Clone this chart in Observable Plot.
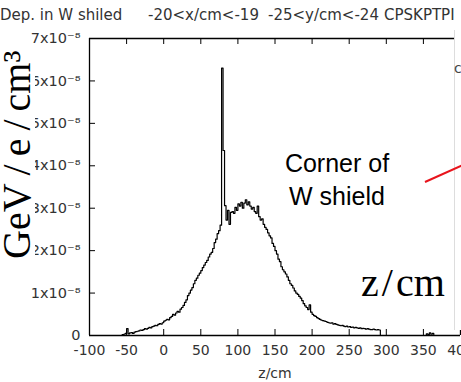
<!DOCTYPE html>
<html><head><meta charset="utf-8">
<script src="https://cdn.jsdelivr.net/npm/d3@7"></script>
<script src="https://cdn.jsdelivr.net/npm/@observablehq/plot@0.6"></script>
<style>
html,body{margin:0;padding:0;background:#fff;}
#chart{width:461px;height:382px;overflow:hidden;position:relative;}
</style></head><body><div id="chart"></div>
<script>
// ---- data ----
const titleParts = ["Dep. in W shiled", "-20<x/cm<-19", "-25<y/cm<-24", "CPSKPTPI"];
const xTicks = [-100, -50, 0, 50, 100, 150, 200, 250, 300, 350, 400];
const yTicks = [0, 1e-8, 2e-8, 3e-8, 4e-8, 5e-8, 6e-8, 7e-8];
const yTickLabels = ["0", "1x10⁻⁸", "2x10⁻⁸", "3x10⁻⁸", "4x10⁻⁸", "5x10⁻⁸", "6x10⁻⁸", "7x10⁻⁸"];
const xLabel = "z/cm";
const yOverlay = ["GeV", "/", "e", "/", "cm³"];
const zOverlay = ["z", "/", "cm"];
const note = ["Corner of", "W shield"];
const binStart = -56;   // cm
const binWidth = 2;     // cm
const depScale = 1e-8;  // GeV/e/cm^3
const dep = [
  0.02, 0.03, 0.05, 0.16, 0.04, 0.06, 0.07, 0.05, 0.08, 0.09,
  0.10, 0.11, 0.13, 0.12, 0.14, 0.16, 0.15, 0.17, 0.19, 0.18,
  0.21, 0.22, 0.24, 0.23, 0.26, 0.28, 0.27, 0.30, 0.34, 0.36,
  0.38, 0.37, 0.42, 0.45, 0.50, 0.48, 0.53, 0.57, 0.55, 0.62,
  0.66, 0.71, 0.78, 0.84, 0.94, 1.00, 1.07, 1.13, 1.22, 1.30,
  1.35, 1.42, 1.47, 1.53, 1.60, 1.66, 1.72, 1.77, 1.85, 1.92,
  1.96, 2.05, 2.19, 2.27, 2.40, 2.47, 2.60, 6.30, 4.36, 3.06,
  2.72, 2.95, 2.62, 2.90, 2.92, 2.88, 3.02, 2.95, 3.10, 3.05,
  3.14, 3.00, 3.12, 3.20, 3.08, 3.15, 3.05, 2.98, 3.02, 2.92,
  2.88, 3.05, 2.80, 2.72, 2.75, 2.62, 2.55, 2.50, 2.42, 2.35,
  2.30, 2.17, 2.10, 2.00, 1.92, 1.80, 1.74, 1.62, 1.55, 1.50,
  1.45, 1.38, 1.30, 1.22, 1.18, 1.12, 1.05, 1.00, 0.97,
  0.92, 0.88, 0.82, 0.75, 0.70, 0.66, 0.61, 0.72, 0.55, 0.50,
  0.47, 0.45, 0.42, 0.40, 0.38, 0.36, 0.35, 0.34, 0.33, 0.31,
  0.30, 0.29, 0.30, 0.27, 0.28, 0.26, 0.25, 0.24, 0.23, 0.24,
  0.22, 0.21, 0.22, 0.20, 0.21, 0.19, 0.20, 0.18, 0.19, 0.18,
  0.17, 0.18, 0.16, 0.17, 0.16, 0.15, 0.16, 0.15, 0.14,
  0.14, 0.15, 0.14, 0.13, 0.14, 0.13
];
const blipStart = 354;
const blip = [0.04, 0.02, 0.06, 0.03, 0.05];

// ---- build step tables ----
function steps(start, vals) {
  const rows = [{z: start, v: 0}];
  vals.forEach((d, i) => rows.push({z: start + i * binWidth, v: d * depScale}));
  rows.push({z: start + vals.length * binWidth, v: 0});
  return rows;
}
const histRows = steps(binStart, dep);
const blipRows = steps(blipStart, blip);

const W = 461, H = 382, mL = 89, mR = 1, mT = 38, mB = 47;
const plotW = W - mL - mR, plotH = H - mT - mB;

const chart = Plot.plot({
  width: W, height: H,
  marginLeft: mL, marginRight: mR, marginTop: mT, marginBottom: mB,
  style: {fontFamily: "DejaVu Sans", fontSize: "14px", color: "#333", background: "#fff"},
  x: {domain: [-100, 400]},
  y: {domain: [0, 7e-8]},
  marks: [
    Plot.axisX(xTicks, {tickSize: 0, tickPadding: 10, tickFormat: d => String(d), label: null}),
    Plot.axisY(yTicks, {tickSize: 0, tickPadding: 9, tickFormat: d => yTickLabels[yTicks.indexOf(d)], label: null, fontSize: 14.5}),
    Plot.tickX(xTicks.slice(1, -1), {x: d => d, insetTop: plotH - 6, stroke: "black"}),
    Plot.tickX(xTicks.slice(1, -1), {x: d => d, insetBottom: plotH - 6, stroke: "black"}),
    Plot.tickY(yTicks.slice(1, -1), {y: d => d, insetRight: plotW - 6, stroke: "black"}),
    Plot.tickY(yTicks.slice(1, -1), {y: d => d, insetLeft: plotW - 6, stroke: "black"}),
    Plot.line(histRows, {x: "z", y: "v", curve: "step-after", stroke: "black", strokeWidth: 1.2}),
    Plot.line(blipRows, {x: "z", y: "v", curve: "step-after", stroke: "black", strokeWidth: 1.2}),
    Plot.ruleY([0], {stroke: "black", strokeWidth: 1.3}),
    Plot.ruleY([7e-8], {stroke: "black", strokeWidth: 1.3}),
    Plot.ruleX([-100], {stroke: "black", strokeWidth: 1.3}),
    Plot.ruleX([400], {stroke: "black", strokeWidth: 1.3}),
    Plot.text([xLabel], {frameAnchor: "bottom", dy: 42, text: d => d, fontSize: 14, fill: "#333"})
  ]
});
document.getElementById("chart").appendChild(chart);

const svg = d3.select(chart);
// title
const tx = [0, 148, 268, 384];
const t = svg.append("text").attr("y", 20).attr("text-anchor", "start")
  .attr("font-family", "DejaVu Sans").attr("font-size", 15).attr("fill", "#333");
titleParts.forEach((p, i) => t.append("tspan").attr("x", tx[i]).text(p));

// overlay panel at right edge
svg.append("rect").attr("x", 455).attr("y", 30).attr("width", 8).attr("height", 300).attr("fill", "#fff");
svg.append("line").attr("x1", 454.5).attr("x2", 454.5).attr("y1", 30).attr("y2", 330).attr("stroke", "#ddd");
svg.append("text").attr("x", 454).attr("y", 73).attr("text-anchor", "start")
  .attr("font-family", "DejaVu Sans").attr("font-size", 14).attr("fill", "#444").text("c");

// white box behind vertical overlay label
svg.append("rect").attr("x", 0).attr("y", 48).attr("width", 35).attr("height", 214).attr("fill", "#fff");
const gv = svg.append("text").attr("transform", "translate(30,259) rotate(-90)").attr("text-anchor", "start")
  .attr("font-family", "Liberation Serif, 'DejaVu Serif', serif").attr("font-size", 40).attr("fill", "#000");
yOverlay.forEach((p, i) => gv.append("tspan").attr("dx", i === 0 ? 0 : 8).text(p));

const zv = svg.append("text").attr("x", 361).attr("y", 296).attr("text-anchor", "start")
  .attr("font-family", "Liberation Serif, 'DejaVu Serif', serif").attr("font-size", 40).attr("fill", "#000");
zOverlay.forEach((p, i) => zv.append("tspan").attr("dx", i === 0 ? 0 : 3).text(p));

note.forEach((s, i) => svg.append("text").attr("x", 337).attr("y", 172 + i * 33)
  .attr("text-anchor", "middle").attr("font-family", "Liberation Sans, Arial, sans-serif")
  .attr("font-size", 25).attr("fill", "#000").text(s));

svg.append("line").attr("x1", 425).attr("y1", 182).attr("x2", 463).attr("y2", 165)
  .attr("stroke", "#e8141c").attr("stroke-width", 2);
</script></body></html>
